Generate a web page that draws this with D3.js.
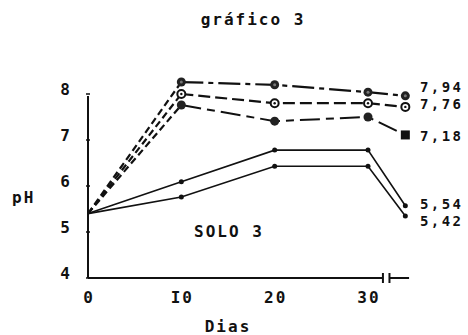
<!DOCTYPE html>
<html>
<head>
<meta charset="utf-8">
<script src="https://cdn.jsdelivr.net/npm/d3@7"></script>
<style>
  body { margin: 0; background: #fff; }
  text { font-family: "DejaVu Sans Mono", monospace; font-size: 16px; font-weight: bold; letter-spacing: 2px; fill: #111; }
  text.endlab { font-size: 14px; letter-spacing: 2.4px; }
</style>
</head>
<body>
<div id="root"></div>
<script>
const days = [0, 10, 20, 30, 34];
const xTicks = [0, 10, 20, 30];
const xTickLabels = ['0', 'I0', '20', '30'];
const yTicks = [4, 5, 6, 7, 8];

const s794 = [5.4, 8.26, 8.2, 8.04, 7.96];
const s776 = [5.4, 8.0, 7.8, 7.8, 7.72];
const s718 = [5.4, 7.76, 7.41, 7.5, 7.11];
const s554 = [5.4, 6.09, 6.78, 6.78, 5.57];
const s542 = [5.4, 5.76, 6.43, 6.43, 5.35];

const endLabels = ['7,94', '7,76', '7,18', '5,54', '5,42'];

const width = 468, height = 335;

const svg = d3.select('#root').append('svg')
    .attr('width', width)
    .attr('height', height);

const x = d3.scaleLinear().domain([0, 30]).range([88, 368]);
const y = d3.scaleLinear().domain([4, 8]).range([278, 94]);

// axes, drawn by hand to look like the typed original
svg.append('line')
    .attr('x1', x(0)).attr('x2', x(0))
    .attr('y1', y(8) + 2).attr('y2', y(4))
    .attr('stroke', '#111').attr('stroke-width', 2);
svg.append('line')
    .attr('x1', x(0)).attr('x2', x(31.6))
    .attr('y1', y(4)).attr('y2', y(4))
    .attr('stroke', '#111').attr('stroke-width', 2);
svg.append('line')
    .attr('x1', x(32.3)).attr('x2', x(34.4))
    .attr('y1', y(4)).attr('y2', y(4))
    .attr('stroke', '#111').attr('stroke-width', 2);
// axis break marks
[31.6, 32.3].forEach(d => {
    svg.append('line')
        .attr('x1', x(d)).attr('x2', x(d))
        .attr('y1', y(4) - 5).attr('y2', y(4) + 5)
        .attr('stroke', '#111').attr('stroke-width', 2);
});

svg.selectAll('.ytick').data(yTicks).join('line')
    .attr('x1', x(0) - 2).attr('x2', x(0) + 2)
    .attr('y1', d => y(d)).attr('y2', d => y(d))
    .attr('stroke', '#111').attr('stroke-width', 1.5);

svg.selectAll('.ylab').data(yTicks).join('text')
    .attr('x', 66)
    .attr('y', d => y(d) + 1)
    .attr('text-anchor', 'middle')
    .text(d => d);

svg.selectAll('.xlab').data(xTicks).join('text')
    .attr('x', (d, i) => x(d) + 1)
    .attr('y', 303)
    .attr('text-anchor', 'middle')
    .text((d, i) => xTickLabels[i]);

// texts
svg.append('text').attr('x', 253).attr('y', 25).attr('text-anchor', 'middle').text('gráfico 3');
svg.append('text').attr('x', 12).attr('y', 203).text('pH');
svg.append('text').attr('x', 229).attr('y', 237).attr('text-anchor', 'middle').text('SOLO 3');
svg.append('text').attr('x', 228).attr('y', 332).attr('text-anchor', 'middle').text('Dias');

const labelY = [92, 109, 141, 209, 226];
svg.selectAll('.endlab').data(endLabels).join('text')
    .attr('class', 'endlab')
    .attr('x', 420)
    .attr('y', (d, i) => labelY[i])
    .text(d => d);

const line = d3.line().x((d, i) => x(days[i])).y(d => y(d));

const series = [
    { v: s794, dash: '22,5,5,5', w: 2.2 },
    { v: s776, dash: '12,5', w: 2.2 },
    { v: s718, dash: '20,6,8,6', w: 2 },
    { v: s554, dash: null, w: 1.6 },
    { v: s542, dash: null, w: 1.6 }
];

series.forEach((s, k) => {
    // first segment of the upper three is dashed
    if (k < 3) {
        svg.append('path')
            .datum(s.v.slice(0, 2))
            .attr('d', line)
            .attr('fill', 'none')
            .attr('stroke', '#111')
            .attr('stroke-width', 2.2)
            .attr('stroke-dasharray', '7,4');
        svg.append('path')
            .datum(s.v.slice(1))
            .attr('d', d3.line().x((d, i) => x(days[i + 1])).y(d => y(d)))
            .attr('fill', 'none')
            .attr('stroke', '#111')
            .attr('stroke-width', s.w)
            .attr('stroke-dasharray', s.dash);
    } else {
        svg.append('path')
            .datum(s.v)
            .attr('d', line)
            .attr('fill', 'none')
            .attr('stroke', '#111')
            .attr('stroke-width', s.w);
    }
});

// markers
const g = svg.append('g');
s794.slice(1).forEach((v, i) => {
    g.append('circle').attr('cx', x(days[i + 1])).attr('cy', y(v)).attr('r', 4.5).attr('fill', '#222');
    g.append('circle').attr('cx', x(days[i + 1])).attr('cy', y(v)).attr('r', 1.5).attr('fill', '#777');
});
s776.slice(1).forEach((v, i) => {
    g.append('circle').attr('cx', x(days[i + 1])).attr('cy', y(v)).attr('r', 4)
        .attr('fill', '#fff').attr('stroke', '#111').attr('stroke-width', 2);
    g.append('circle').attr('cx', x(days[i + 1])).attr('cy', y(v)).attr('r', 1.2).attr('fill', '#111');
});
s718.slice(1).forEach((v, i) => {
    if (i === 3) {
        g.append('rect').attr('x', x(days[i + 1]) - 4.5).attr('y', y(v) - 4.5)
            .attr('width', 9).attr('height', 9).attr('fill', '#111');
    } else {
        g.append('circle').attr('cx', x(days[i + 1])).attr('cy', y(v)).attr('r', 4.5).attr('fill', '#222');
    }
});
[s554, s542].forEach(s => {
    s.slice(1).forEach((v, i) => {
        g.append('circle').attr('cx', x(days[i + 1])).attr('cy', y(v)).attr('r', 2.5).attr('fill', '#111');
    });
});
</script>
</body>
</html>
